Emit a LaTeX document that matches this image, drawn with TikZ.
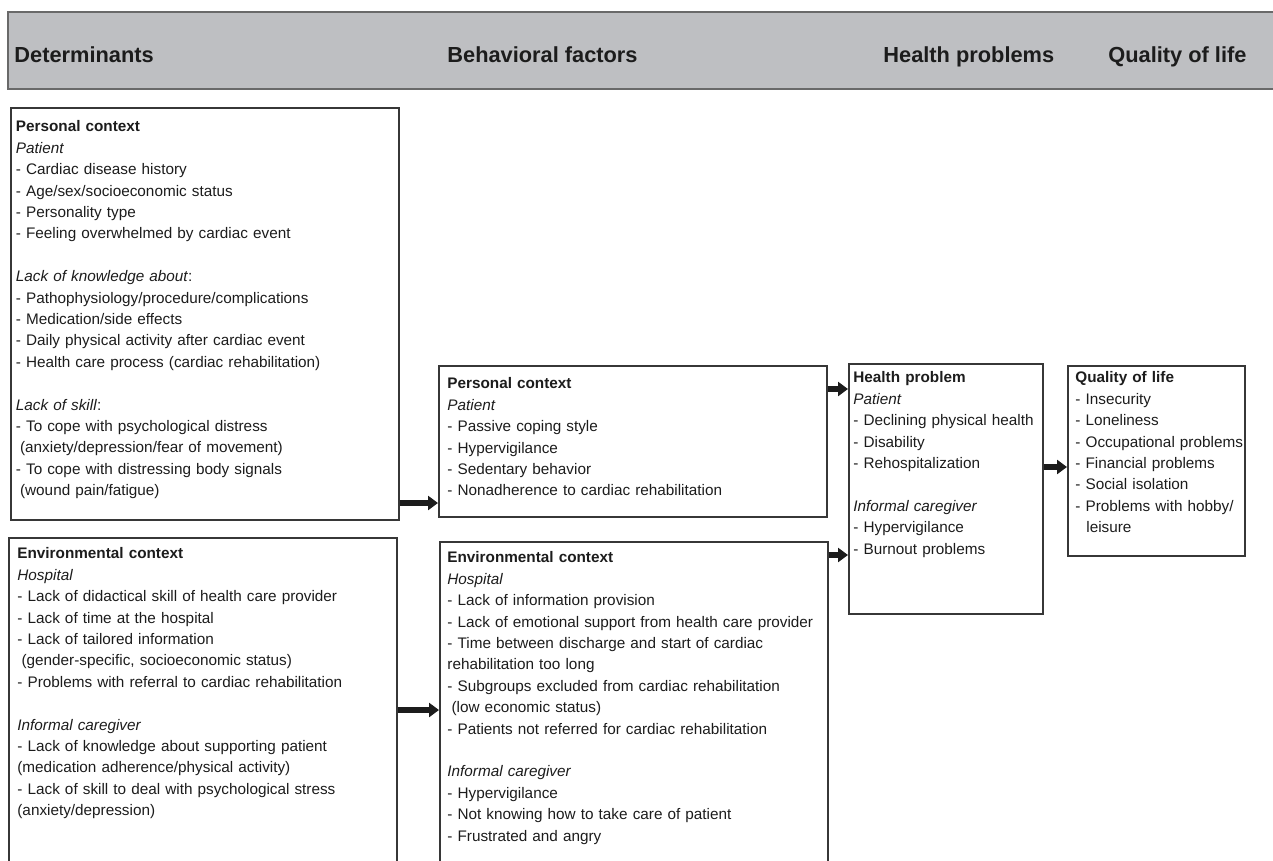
\documentclass[tikz,border=0pt]{standalone}
\usepackage{fontspec}
\setmainfont{Liberation Sans}
\usetikzlibrary{positioning,arrows.meta}
\definecolor{hdrgray}{RGB}{190,191,194}
\definecolor{hdrline}{RGB}{105,105,105}
\definecolor{boxline}{RGB}{55,55,55}
\definecolor{ink}{RGB}{28,28,28}
\newcommand\ind{\hspace*{2.1pt}}
\begin{document}
\begin{tikzpicture}[x=0.5pt,y=-0.5pt,
 box/.style={draw=boxline,line width=0.8pt,anchor=north west,inner sep=0pt},
 txt/.style={anchor=north west,inner sep=0pt,text width=240pt,align=left,
  text=ink,font=\fontsize{7.65}{10.7}\selectfont},
 head/.style={anchor=base west,inner sep=0pt,text=ink,
  font=\fontsize{10.9}{13}\selectfont\bfseries},
 flow/.style={draw=ink,line width=2.6pt,-{Triangle[length=5pt,width=7pt]}}]

  \clip (0,0) rectangle (1273,861);

  % header band
  \node[box,draw=hdrline,fill=hdrgray,minimum width=640pt,minimum height=38.5pt] (hdr) at (7,11) {};
  \node[head] (hdet) at (14,62.5) {Determinants};
  \node[head] (hbeh) at (447,62.5) {Behavioral factors};
  \node[head] (hhea) at (883,62.5) {Health problems};
  \node[head] (hqol) at (1108,62.5) {Quality of life};

  % boxes
  \node[box,minimum width=194pt,minimum height=206pt] (perdet) at (10,107) {};
  \node[box,minimum width=194pt,minimum height=200pt] (envdet) at (8,537) {};
  \node[box,minimum width=194pt,minimum height=75.5pt] (perbeh) at (438,365) {};
  \node[box,minimum width=194pt,minimum height=200pt] (envbeh) at (439,541) {};
  \node[box,minimum width=97pt,minimum height=125pt] (health) at (848,363) {};
  \node[box,minimum width=88.5pt,minimum height=95pt] (qol) at (1067,365) {};

  \node[txt] (perdettxt) [below right=6.75pt and 2.75pt of perdet.north west] {
   \textbf{Personal context}\\
   \textit{Patient}\\
   - Cardiac disease history\\
   - Age/sex/socioeconomic status\\
   - Personality type\\
   - Feeling overwhelmed by cardiac event\\[10.7pt]
   \textit{Lack of knowledge about}:\\
   - Pathophysiology/procedure/complications\\
   - Medication/side effects\\
   - Daily physical activity after cardiac event\\
   - Health care process (cardiac rehabilitation)\\[10.7pt]
   \textit{Lack of skill}:\\
   - To cope with psychological distress\\
   \ind(anxiety/depression/fear of movement)\\
   - To cope with distressing body signals\\
   \ind(wound pain/fatigue)};

  \node[txt] (envdettxt) [below right=5.25pt and 4.5pt of envdet.north west] {
   \textbf{Environmental context}\\
   \textit{Hospital}\\
   - Lack of didactical skill of health care provider\\
   - Lack of time at the hospital\\
   - Lack of tailored information\\
   \ind(gender-specific, socioeconomic status)\\
   - Problems with referral to cardiac rehabilitation\\[10.7pt]
   \textit{Informal caregiver}\\
   - Lack of knowledge about supporting patient\\
   (medication adherence/physical activity)\\
   - Lack of skill to deal with psychological stress\\
   (anxiety/depression)};

  \node[txt] (perbehtxt) [below right=6.25pt and 4.5pt of perbeh.north west] {
   \textbf{Personal context}\\
   \textit{Patient}\\
   - Passive coping style\\
   - Hypervigilance\\
   - Sedentary behavior\\
   - Nonadherence to cardiac rehabilitation};

  \node[txt] (envbehtxt) [below right=5.25pt and 4pt of envbeh.north west] {
   \textbf{Environmental context}\\
   \textit{Hospital}\\
   - Lack of information provision\\
   - Lack of emotional support from health care provider\\
   - Time between discharge and start of cardiac\\
   rehabilitation too long\\
   - Subgroups excluded from cardiac rehabilitation\\
   \ind(low economic status)\\
   - Patients not referred for cardiac rehabilitation\\[10.7pt]
   \textit{Informal caregiver}\\
   - Hypervigilance\\
   - Not knowing how to take care of patient\\
   - Frustrated and angry};

  \node[txt] (healthtxt) [below right=4.25pt and 2.5pt of health.north west] {
   \textbf{Health problem}\\
   \textit{Patient}\\
   - Declining physical health\\
   - Disability\\
   - Rehospitalization\\[10.7pt]
   \textit{Informal caregiver}\\
   - Hypervigilance\\
   - Burnout problems};

  \node[txt] (qoltxt) [below right=3.25pt and 4pt of qol.north west] {
   \textbf{Quality of life}\\
   - Insecurity\\
   - Loneliness\\
   - Occupational problems\\
   - Financial problems\\
   - Social isolation\\
   - Problems with hobby/\\
   \hspace*{5.5pt}leisure};

  % arrows
  \foreach \s/\t/\d in {perdet/perbeh/396, envdet/envbeh/173, perbeh/health/24,
   envbeh/health/14, health/qol/104} {
   \path (\s.north east) ++(0,\d) coordinate (p);
   \draw[flow] (p) -- (p -| \t.west);}
\end{tikzpicture}
\end{document}
